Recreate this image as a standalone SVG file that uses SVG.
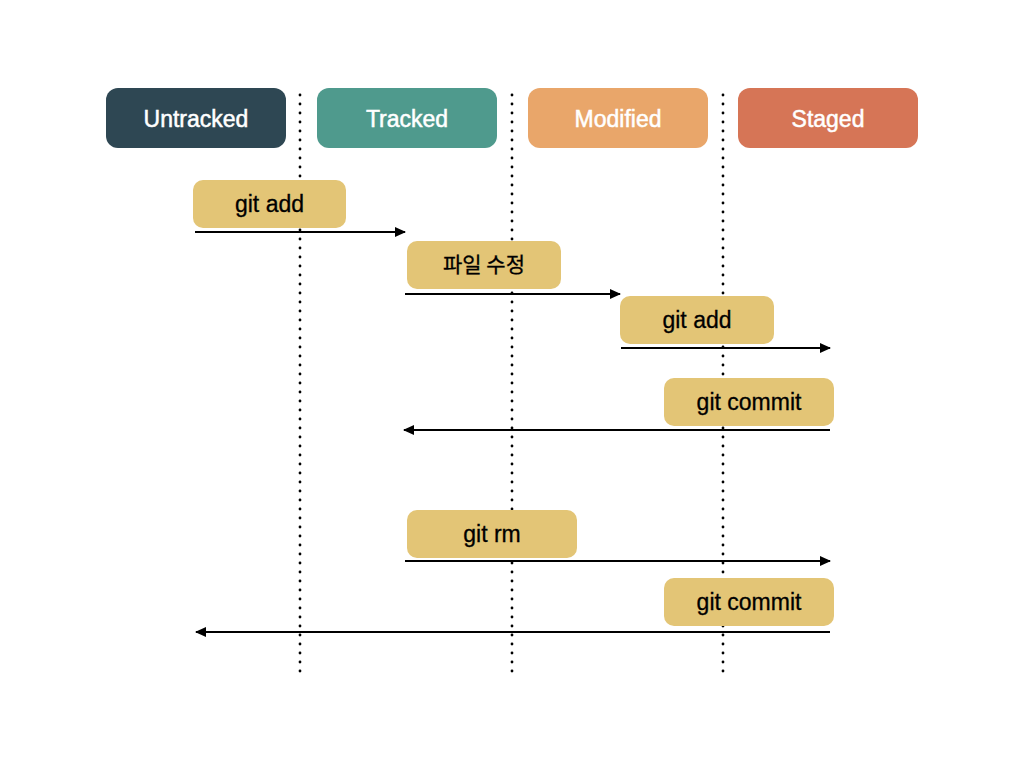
<svg xmlns="http://www.w3.org/2000/svg" width="1024" height="768" viewBox="0 0 1024 768">
<defs>
<style>
.hdr{font-family:"Liberation Sans",Arial,sans-serif;font-size:23px;fill:#ffffff;text-anchor:middle;stroke:#ffffff;stroke-width:0.5}
.lbl{font-family:"Liberation Sans","Noto Sans CJK KR",Arial,sans-serif;font-size:23px;fill:#000000;text-anchor:middle;stroke:#000;stroke-width:0.3}
.kr{font-family:"Noto Sans CJK KR",sans-serif;font-size:21px;fill:#000000;text-anchor:middle;stroke:#000;stroke-width:0.3}
.cmd{fill:#E3C576}
.dot{stroke:#000;stroke-width:2.8;stroke-linecap:round;stroke-dasharray:0 9;fill:none}
.arr{stroke:#000;stroke-width:2;fill:none}
</style>
<marker id="ah" viewBox="0 0 11 10" refX="10" refY="5" markerWidth="11" markerHeight="10" markerUnits="userSpaceOnUse" orient="auto">
<path d="M0,0 L11,5 L0,10 z" fill="#000"/>
</marker>
</defs>
<rect width="1024" height="768" fill="#ffffff"/>
<g id="lifelines">
<line class="dot" x1="300" y1="95" x2="300" y2="672"/>
<line class="dot" x1="512" y1="95" x2="512" y2="672"/>
<line class="dot" x1="723" y1="95" x2="723" y2="672"/>
</g>
<g id="untracked"><rect x="106" y="88" width="180" height="60" rx="12" fill="#2E4753"/><text class="hdr" x="196" y="127">Untracked</text></g>
<g id="tracked"><rect x="317" y="88" width="180" height="60" rx="12" fill="#4F9A8D"/><text class="hdr" x="407" y="127">Tracked</text></g>
<g id="modified"><rect x="528" y="88" width="180" height="60" rx="12" fill="#E9A66A"/><text class="hdr" x="618" y="127">Modified</text></g>
<g id="staged"><rect x="738" y="88" width="180" height="60" rx="12" fill="#D67556"/><text class="hdr" x="828" y="127">Staged</text></g>
<g id="connectors">
<line class="arr" x1="195" y1="232" x2="405" y2="232" marker-end="url(#ah)"/>
<line class="arr" x1="405" y1="294" x2="620" y2="294" marker-end="url(#ah)"/>
<line class="arr" x1="621" y1="348" x2="830" y2="348" marker-end="url(#ah)"/>
<line class="arr" x1="830" y1="430" x2="404" y2="430" marker-end="url(#ah)"/>
<line class="arr" x1="405" y1="561" x2="830" y2="561" marker-end="url(#ah)"/>
<line class="arr" x1="830" y1="632" x2="196" y2="632" marker-end="url(#ah)"/>
</g>
<g id="cmd1"><rect class="cmd" x="193" y="180" width="153" height="48" rx="10"/><text class="lbl" x="269.5" y="212">git add</text></g>
<g id="cmd2"><rect class="cmd" x="407" y="241" width="154" height="48" rx="10"/><text class="kr" x="484" y="272">파일 수정</text></g>
<g id="cmd3"><rect class="cmd" x="620" y="296" width="154" height="48" rx="10"/><text class="lbl" x="697" y="328">git add</text></g>
<g id="cmd4"><rect class="cmd" x="664" y="378" width="170" height="48" rx="10"/><text class="lbl" x="749" y="410">git commit</text></g>
<g id="cmd5"><rect class="cmd" x="407" y="510" width="170" height="48" rx="10"/><text class="lbl" x="492" y="542">git rm</text></g>
<g id="cmd6"><rect class="cmd" x="664" y="578" width="170" height="48" rx="10"/><text class="lbl" x="749" y="610">git commit</text></g>
</svg>
